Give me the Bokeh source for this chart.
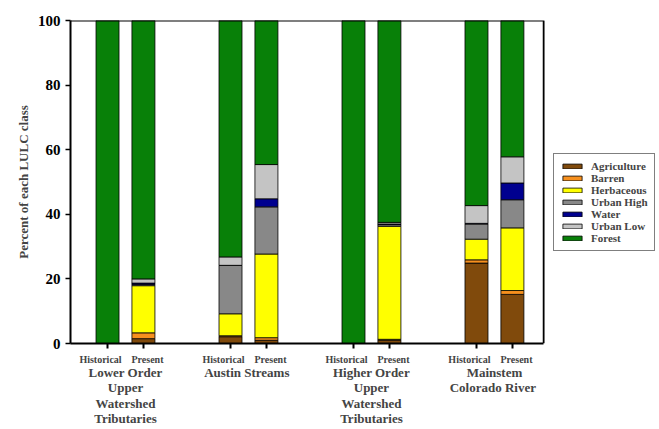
from bokeh.plotting import figure
from bokeh.models import (ColumnDataSource, Range1d, FixedTicker, CustomJSTickFormatter,
                          LinearAxis, Legend)
from bokeh.embed import file_html
from bokeh.resources import INLINE

# Land use / land cover share (%) per stream group, historical vs present
groups = ["Lower Order\nUpper\nWatershed\nTributaries", "Austin  Streams",
          "Higher Order\nUpper\nWatershed\nTributaries", "Mainstem\nColorado  River"]
periods = ["Historical", "Present"]

classes = ["Agriculture", "Barren", "Herbaceous", "Urban High", "Water", "Urban Low", "Forest"]
colors = ["#804a0c", "#f7901e", "#ffff00", "#888888", "#00008f", "#c4c4c4", "#088008"]

# one value per bar, order: group1 hist, group1 pres, group2 hist, ...
agriculture = [0.0, 1.5, 2.1, 1.0, 0.0, 1.0, 24.9, 15.2]
barren      = [0.0, 1.8, 0.3, 0.8, 0.0, 0.3, 1.0, 1.2]
herbaceous  = [0.0, 14.6, 6.8, 25.9, 0.0, 35.0, 6.4, 19.4]
urban_high  = [0.0, 0.4, 15.0, 14.6, 0.0, 0.5, 4.7, 8.7]
water       = [0.0, 0.4, 0.0, 2.5, 0.0, 0.2, 0.2, 5.2]
urban_low   = [0.0, 1.3, 2.6, 10.6, 0.0, 0.5, 5.5, 8.1]
forest      = [100.0, 80.0, 73.2, 44.6, 100.0, 62.5, 57.3, 42.2]

y_ticks = [0, 20, 40, 60, 80, 100]

SERIF = "Liberation Serif"
offset = 0.146          # bar centre distance from group centre
bar_w = 0.187
label_shift = {0: -0.057, 1: 0.033}   # period-label nudge away from the pair centre

# plotted box spans x_lo..x_hi; the frame continues to the right to hold the legend
x_lo, x_hi, x_frame_end = 0.553, 4.40, 5.342
y_lo, y_hi = 0, 100

group_x = [gi + 1 for gi in range(len(groups))]
xs, label_xs, label_txt = [], [], {}
for g in group_x:
    for pi, per in enumerate(periods):
        bx = g + (-offset if pi == 0 else offset)
        xs.append(bx)
        lx = round(bx + label_shift[pi], 4)
        label_xs.append(lx)
        label_txt[lx] = per

source = ColumnDataSource(dict(
    x=xs, Agriculture=agriculture, Barren=barren, Herbaceous=herbaceous,
    **{"Urban High": urban_high}, Water=water, **{"Urban Low": urban_low}, Forest=forest))

p = figure(width=659, height=429, output_backend="svg", toolbar_location=None,
           x_range=Range1d(x_lo, x_frame_end), y_range=Range1d(y_lo, y_hi),
           min_border_left=70, min_border_right=0, min_border_top=20, min_border_bottom=86)
p.outline_line_color = None
p.xgrid.visible = False
p.ygrid.visible = False

renderers = p.vbar_stack(classes, x="x", width=bar_w, source=source, color=colors,
                         line_color="black", line_width=0.8)

# top and right edges of the plotting box
p.line(x=[x_lo, x_hi, x_hi], y=[y_hi, y_hi, y_lo], line_color="black", line_width=1.8)

# y axis
p.yaxis.ticker = FixedTicker(ticks=y_ticks)
p.yaxis.minor_tick_line_color = None
p.yaxis.major_tick_in = 0
p.yaxis.major_tick_out = 5
p.yaxis.axis_line_width = 2
p.yaxis.major_tick_line_width = 1.5
p.yaxis.major_label_text_font = SERIF
p.yaxis.major_label_text_font_style = "bold"
p.yaxis.major_label_text_font_size = "15px"
p.yaxis.major_label_text_color = "black"
p.yaxis.axis_label = "Percent of each LULC class"
p.yaxis.axis_label_text_font = SERIF
p.yaxis.axis_label_text_font_style = "bold"
p.yaxis.axis_label_text_font_size = "13px"
p.yaxis.axis_label_standoff = 4

# x axis: tick marks at each bar, no labels
p.xaxis.ticker = FixedTicker(ticks=xs)
p.xaxis.bounds = (x_lo, x_hi)
p.xaxis.formatter = CustomJSTickFormatter(code="return '';")
p.xaxis.minor_tick_line_color = None
p.xaxis.major_tick_in = 0
p.xaxis.major_tick_out = 5
p.xaxis.major_tick_line_width = 2
p.xaxis.axis_line_width = 1.8
p.xaxis.major_label_standoff = 0
p.xaxis.major_label_text_font_size = "0px"

# period names under each bar
period_axis = LinearAxis(ticker=FixedTicker(ticks=label_xs),
                         major_label_overrides=label_txt)
period_axis.axis_line_color = None
period_axis.major_tick_line_color = None
period_axis.minor_tick_line_color = None
period_axis.major_tick_out = 0
period_axis.major_tick_in = 0
period_axis.major_label_standoff = 5
period_axis.major_label_text_font = SERIF
period_axis.major_label_text_font_style = "bold"
period_axis.major_label_text_font_size = "10px"
p.add_layout(period_axis, "below")

# group names under each pair of bars
group_axis = LinearAxis(ticker=FixedTicker(ticks=group_x),
                        major_label_overrides={g: n for g, n in zip(group_x, groups)})
group_axis.axis_line_color = None
group_axis.major_tick_line_color = None
group_axis.minor_tick_line_color = None
group_axis.major_tick_out = 0
group_axis.major_tick_in = 0
group_axis.major_label_standoff = -3
group_axis.major_label_text_font = SERIF
group_axis.major_label_text_font_style = "bold"
group_axis.major_label_text_font_size = "13px"
group_axis.major_label_text_line_height = 1.04
p.add_layout(group_axis, "below")

legend = Legend(items=[(c, [r]) for c, r in zip(classes, renderers)],
                location=(483, 92), orientation="vertical")
legend.label_text_font = SERIF
legend.label_text_font_style = "bold"
legend.label_text_font_size = "11px"
legend.label_height = 11
legend.glyph_height = 6
legend.glyph_width = 24
legend.label_standoff = 7
legend.spacing = 0
legend.padding = 6
legend.margin = 0
legend.border_line_color = "black"
legend.border_line_width = 1
legend.background_fill_alpha = 1
p.add_layout(legend, "center")

open("out.html", "w").write(file_html(p, INLINE))
